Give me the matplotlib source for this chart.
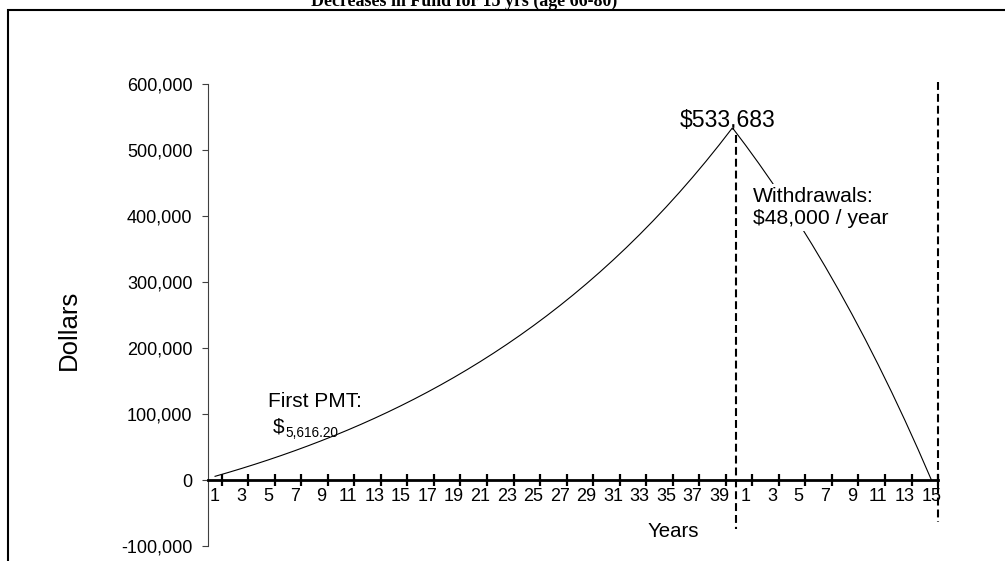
import matplotlib.pyplot as plt
from matplotlib.patches import Rectangle
from matplotlib.ticker import FuncFormatter

plt.rcParams['font.family'] = ['Liberation Sans', 'DejaVu Sans']

# fund balance per year: 40 years saving, then 15 years of withdrawals
saving = [5616, 11457, 17531, 23849, 30419, 37252, 44358, 51749, 59435, 67429,
          75742, 84388, 93379, 102731, 112457, 122571, 133090, 144030, 155407, 167240,
          179545, 192343, 205653, 219495, 233891, 248862, 264433, 280626, 297468, 314983,
          333199, 352142, 371843, 392332, 413642, 435805, 458854, 482824, 507753, 533683]
withdraw = [507030, 479311, 450483, 420502, 389322, 356895, 323171, 288098, 251622,
            213687, 174234, 133203, 90531, 46152, 0]
balance = saving + withdraw
years = list(range(1, len(saving) + 1)) + list(range(1, len(withdraw) + 1))
yticks = [-100000, 0, 100000, 200000, 300000, 400000, 500000, 600000]

W, H = 1005, 561
fig = plt.figure(figsize=(W / 100, H / 100), dpi=100)

def fx(px):
    return px / W

def fy(py):
    return 1 - py / H

# outer chart frame (runs off the right and bottom edges)
fig.add_artist(Rectangle((fx(7.5), -0.1), 1.2, fy(9.5) + 0.1, transform=fig.transFigure,
                         fill=False, edgecolor='black', linewidth=1.5, clip_on=False))

ax = fig.add_axes([0.2074, 0.0267, 0.726, 0.8235])
pos = list(range(1, len(balance) + 1))
ax.plot(pos, balance, color='black', linewidth=0.8)

ax.set_xlim(0.5, len(balance) + 0.5)
ax.set_ylim(yticks[0], yticks[-1])
ax.set_yticks(yticks)
ax.yaxis.set_major_formatter(FuncFormatter(lambda v, p: f'{v:,.0f}'))

for s in ['top', 'right']:
    ax.spines[s].set_visible(False)
ax.spines['left'].set_color('#404040')
ax.spines['left'].set_linewidth(0.8)
ax.spines['bottom'].set_position(('data', 0))
ax.spines['bottom'].set_linewidth(2)

ax.set_xticks([p + 0.5 for p in pos[::2]][:-1] + [len(balance) + 0.5])
ax.set_xticklabels([])
lab_pos = [p for p, y in zip(pos, years) if y % 2 == 1]
lab_txt = [str(y) for y in years if y % 2 == 1]
ax.set_xticks(lab_pos, lab_txt, minor=True)
ax.tick_params(axis='x', which='major', direction='inout', length=8, width=1.6)
ax.tick_params(axis='x', which='minor', length=0, pad=5.5, labelsize=13)
ax.tick_params(axis='y', direction='out', length=4.5, width=0.8, color='#404040',
               pad=7, labelsize=13)

# vertical dashed separators
dash = (0, (3.8, 1.9))
ax.plot([len(saving) + 0.3] * 2, [522700, -74200], color='black', linewidth=1.5,
        linestyle=dash, clip_on=False)
ax.plot([len(balance) + 0.5] * 2, [603000, -63600], color='black', linewidth=1.5,
        linestyle=dash, clip_on=False)

fig.text(fx(464), fy(6), 'Decreases in Fund for 15 yrs (age 66-80)', ha='center',
         va='baseline', fontsize=12.9, fontweight='bold', family='Liberation Serif')
fig.text(fx(69), fy(330), 'Dollars', rotation=90, ha='center', va='center', fontsize=18.5)
fig.text(fx(673), fy(537), 'Years', ha='center', va='baseline', fontsize=14.7)

fig.text(fx(728), fy(127), f'${saving[-1]:,}', ha='center', va='baseline', fontsize=16.6)
box = dict(facecolor='white', edgecolor='none', pad=2)
fig.text(fx(753), fy(202), 'Withdrawals:', ha='left', va='baseline', fontsize=15.2, bbox=box)
fig.text(fx(753), fy(224), '$48,000 / year', ha='left', va='baseline', fontsize=15.2, bbox=box)

fig.text(fx(268), fy(407), 'First PMT:', ha='left', va='baseline', fontsize=15)
fig.text(fx(273), fy(433), '$', ha='left', va='baseline', fontsize=15)
fig.text(fx(285), fy(437), f'{saving[0] + 0.20:,.2f}', ha='left', va='baseline', fontsize=9.8)

fig.savefig('out.png', dpi=100)
